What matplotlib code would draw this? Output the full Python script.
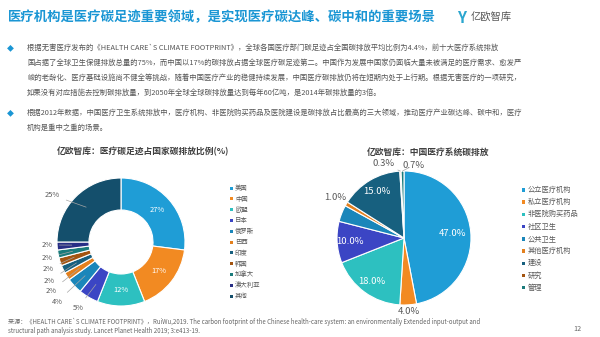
import matplotlib
matplotlib.use('Agg')
import numpy as np
import matplotlib.pyplot as plt
from matplotlib.patches import Rectangle

plt.rcParams['font.family'] = ['Noto Sans CJK SC', 'DejaVu Sans']

W, H = 600, 337

# left donut: medical carbon footprint share by country
countries = ['美国', '中国', '欧盟', '日本', '俄罗斯', '巴西', '印度', '韩国', '加拿大', '澳大利亚', '其他']
country_share = [27, 17, 12, 5, 4, 2, 2, 2, 2, 2, 25]

# right pie: China health-care system emissions
sectors = ['公立医疗机构', '私立医疗机构', '非医院购买药品', '社区卫生', '公共卫生',
           '其他医疗机构', '建设', '研究', '管理']
sector_share = [47.0, 4.0, 18.0, 10.0, 4.0, 1.0, 15.0, 0.3, 0.7]

palette = ['#1f9dd6', '#f28a22', '#2dc0c0', '#3b45c4', '#1a86ba', '#e3801e',
           '#17607f', '#a35410', '#1a7b7b', '#272e85', '#144f6c']

title = '医疗机构是医疗碳足迹重要领域，是实现医疗碳达峰、碳中和的重要场景'
para1 = ['根据无害医疗发布的《HEALTH CARE`S CLIMATE FOOTPRINT》，全球各国医疗部门碳足迹占全国碳排放平均比例为4.4%，前十大医疗系统排放',
         '国占据了全球卫生保健排放总量的75%，而中国以17%的碳排放占据全球医疗碳足迹第二。中国作为发展中国家仍面临大量未被满足的医疗需求、愈发严',
         '峻的老龄化、医疗基础设施尚不健全等挑战，随着中国医疗产业的稳健持续发展，中国医疗碳排放仍将在短期内处于上行期。根据无害医疗的一项研究，',
         '如果没有对应措施去控制碳排放量，到2050年全球全球碳排放量达到每年60亿吨，是2014年碳排放量的3倍。']
para2 = ['根据2012年数据，中国医疗卫生系统排放中，医疗机构、非医院购买药品及医院建设是碳排放占比最高的三大领域，推动医疗产业碳达峰、碳中和，医疗',
         '机构是重中之重的场景。']
source = ['来源：《HEALTH CARE`S CLIMATE FOOTPRINT》，RuiWu,2019. The carbon footprint of the Chinese health-care system: an environmentally Extended input-output and',
          'structural path analysis study. Lancet Planet Health 2019; 3:e413-19.']


def Y(py):
    return H - py


def mid_point(w, cx, cy, r):
    a = np.deg2rad((w.theta1 + w.theta2) / 2)
    return cx + r * np.cos(a), cy + r * np.sin(a)


fig = plt.figure(figsize=(6, 3.37), dpi=100)
ax = fig.add_axes([0, 0, 1, 1])

# header
ax.text(8, Y(17), title, fontsize=9.6, fontweight='bold', color='#1a96d4', va='center')
ax.text(462, Y(18), 'Y', fontsize=11, fontweight='bold', color='#2aa6cf', va='center', ha='center')
ax.text(471, Y(18), '亿欧智库', fontsize=7.4, color='#555555', va='center')

# body text
gray = '#555555'
for i, line in enumerate(para1):
    ax.text(27, Y(48 + i * 14.8), line, fontsize=5.28, color=gray, va='center')
for i, line in enumerate(para2):
    ax.text(27, Y(113 + i * 14.8), line, fontsize=5.28, color=gray, va='center')
for py in (48, 113):
    ax.text(10, Y(py), '◆', fontsize=5, color='#1a96d4', va='center', ha='center')

# left donut
lcx, lcy, lr = 121, Y(242), 64
ax.text(57, Y(152), '亿欧智库：医疗碳足迹占国家碳排放比例(%)', fontsize=6.3,
        fontweight='bold', color='#404040', va='center')
lw, _ = ax.pie(country_share, colors=palette, startangle=90, counterclock=False,
               center=(lcx, lcy), radius=lr, frame=True,
               wedgeprops=dict(width=lr * 0.5, edgecolor='white', linewidth=0.8))
for i in range(3):
    x, y = mid_point(lw[i], lcx, lcy, lr * 0.75)
    ax.text(x, y, '%d%%' % country_share[i], fontsize=5.4, color='white', ha='center', va='center')
# outside labels stacked on the left (日本 ... 其他)
out_pos = {3: (78, 308), 4: (57, 302), 5: (51, 291), 6: (49, 281), 7: (48, 269),
           8: (47, 258), 9: (47, 245), 10: (52, 195)}
for i, (px, py) in out_pos.items():
    x, y = mid_point(lw[i], lcx, lcy, lr * 0.77)
    ax.annotate('%d%%' % country_share[i], xy=(x, y), xytext=(px, Y(py)),
                fontsize=5.4, color='#595959', ha='center', va='center',
                arrowprops=dict(arrowstyle='-', color='#a6a6a6', lw=0.5, shrinkA=3, shrinkB=0))
for i, name in enumerate(countries):
    py = 188 + i * 10.8
    ax.add_patch(Rectangle((229.5, Y(py) - 1.5), 3, 3, color=palette[i], lw=0))
    ax.text(235, Y(py), name, fontsize=4.6, color='#595959', va='center')

# right pie
rcx, rcy, rr = 404, Y(238), 67
ax.text(367, Y(152), '亿欧智库：中国医疗系统碳排放', fontsize=6.3,
        fontweight='bold', color='#404040', va='center')
rw, _ = ax.pie(sector_share, colors=palette[:len(sectors)], startangle=90, counterclock=False,
               center=(rcx, rcy), radius=rr, frame=True,
               wedgeprops=dict(edgecolor='white', linewidth=0.8))
inside = {0: 0.73, 2: 0.81, 3: 0.81, 6: 0.8}
for i, f in inside.items():
    x, y = mid_point(rw[i], rcx, rcy, rr * f)
    ax.text(x, y, '%.1f%%' % sector_share[i], fontsize=6.8, color='white', ha='center', va='center')
for i, f in {1: 1.1, 5: 1.19}.items():
    x, y = mid_point(rw[i], rcx, rcy, rr * f)
    ax.text(x, y, '%.1f%%' % sector_share[i], fontsize=6.8, color='#595959', ha='center', va='center')
for i, (px, py) in {7: (384, 164), 8: (414, 165)}.items():
    x, y = mid_point(rw[i], rcx, rcy, rr)
    ax.annotate('%.1f%%' % sector_share[i], xy=(x, y), xytext=(px, Y(py)),
                fontsize=6.8, color='#595959', ha='center', va='center',
                arrowprops=dict(arrowstyle='-', color='#a6a6a6', lw=0.5, shrinkA=4, shrinkB=0))
for i, name in enumerate(sectors):
    py = 190 + i * 12.2
    ax.add_patch(Rectangle((521.5, Y(py) - 1.7), 3.4, 3.4, color=palette[i], lw=0))
    ax.text(528, Y(py), name, fontsize=5.2, color='#595959', va='center')

# footer
for i, line in enumerate(source):
    ax.text(8, Y(321.5 + i * 9.3), line, fontsize=4.4, color='#666666', va='center')
ax.text(577, Y(329), '12', fontsize=5.2, color='#666666', va='center', ha='center')

ax.set_xlim(0, W)
ax.set_ylim(0, H)
ax.set_aspect('auto')
ax.axis('off')

fig.savefig('out.png', dpi=100)
